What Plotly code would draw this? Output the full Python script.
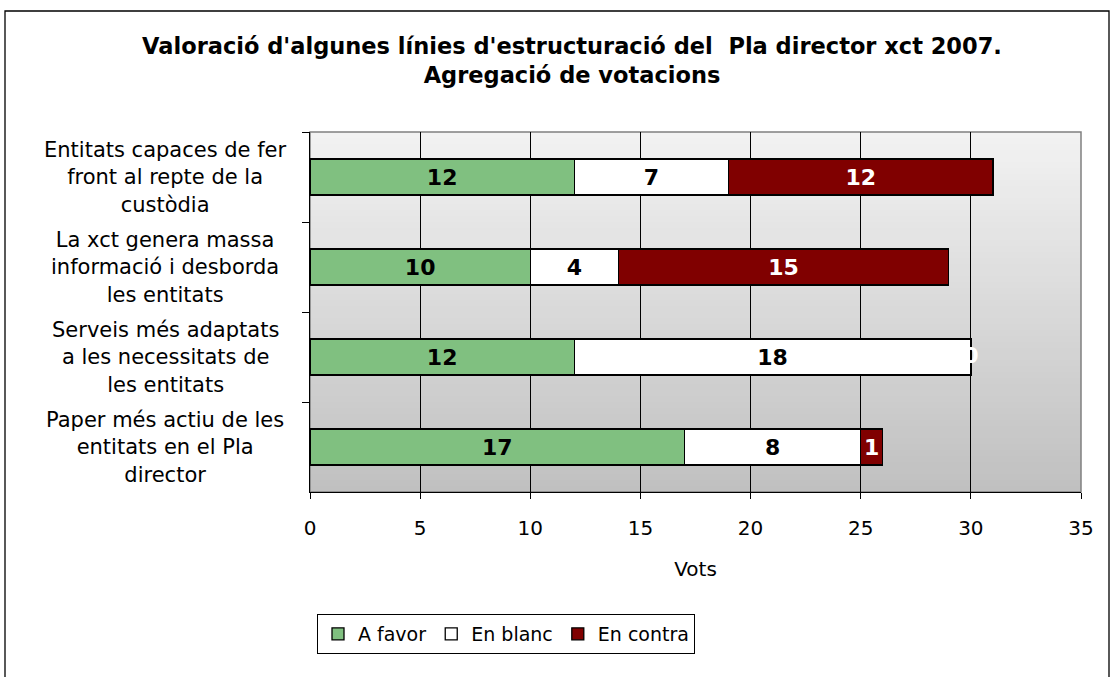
import plotly.graph_objects as go

# Dades de la votació
categories = [
    "Entitats capaces de fer<br>front al repte de la<br>custòdia",
    "La xct genera massa<br>informació i desborda<br>les entitats",
    "Serveis més adaptats<br>a les necessitats de<br>les entitats",
    "Paper més actiu de les<br>entitats en el Pla<br>director",
]
a_favor = [12, 10, 12, 17]
en_blanc = [7, 4, 18, 8]
en_contra = [12, 15, 0, 1]

FONT = "DejaVu Sans"
W, H = 1110, 677
L, R, T, B = 310, 29, 132, 185
pw, ph = W - L - R, H - T - B

fig = go.Figure()

series = [
    ("A favor", a_favor, "#80C080", "black"),
    ("En blanc", en_blanc, "#FFFFFF", "black"),
    ("En contra", en_contra, "#800000", "white"),
]
for name, vals, col, tcol in series:
    fig.add_trace(go.Bar(
        y=categories, x=vals, name=name, orientation="h",
        marker=dict(color=col, line=dict(color="black", width=1.3)),
        text=[str(v) if v else "" for v in vals],
        textposition="inside", insidetextanchor="middle",
        textangle=0, constraintext="none",
        textfont=dict(family=FONT, size=22, color=tcol, weight="bold"),
        hoverinfo="skip",
    ))

# etiqueta dels valors zero (queda al final de la barra)
zero_cats = [c for c, v in zip(categories, en_contra) if v == 0]
zero_x = [f + b + c for f, b, c in zip(a_favor, en_blanc, en_contra) if c == 0]
fig.add_trace(go.Scatter(
    y=zero_cats, x=zero_x, mode="text", text=["0"] * len(zero_x),
    textfont=dict(family=FONT, size=22, color="white", weight="bold"),
    showlegend=False, hoverinfo="skip", cliponaxis=False,
))

# etiquetes de categoria centrades
for c in categories:
    fig.add_annotation(
        x=(165 - L) / pw, xref="paper", y=c, yref="y",
        text=c, showarrow=False, align="center", xanchor="center",
        font=dict(family=FONT, size=21, color="black"),
    )

# fons amb degradat a l'àrea del gràfic
n = 60
for i in range(n):
    t = i / (n - 1)
    v = int(round(0xF2 + (0xC0 - 0xF2) * t))
    fig.add_shape(type="rect", xref="paper", yref="paper",
                  x0=0, x1=1, y0=1 - (i + 1) / n, y1=1 - i / n,
                  fillcolor=f"rgb({v},{v},{v})", line=dict(width=0),
                  layer="below")

# vora gris de l'àrea del gràfic
fig.add_shape(type="rect", xref="paper", yref="paper", x0=0, x1=1, y0=0, y1=1,
              line=dict(color="#808080", width=1.5), layer="below")

# vora exterior
fig.add_shape(type="rect", xref="paper", yref="paper",
              x0=(5 - L) / pw, x1=(1109 - L) / pw,
              y0=(H - B - 690) / ph, y1=(H - B - 11) / ph,
              line=dict(color="black", width=1.3), fillcolor="rgba(0,0,0,0)")

fig.update_layout(
    width=W, height=H,
    margin=dict(l=L, r=R, t=T, b=B),
    barmode="stack", bargap=0.6,
    paper_bgcolor="white", plot_bgcolor="rgba(0,0,0,0)",
    font=dict(family=FONT, size=18, color="black"),
    title=dict(
        text="Valoració d'algunes línies d'estructuració del  Pla director xct 2007.<br>Agregació de votacions",
        x=572 / W, xanchor="center", y=1 - 54 / H, yanchor="middle",
        font=dict(family=FONT, size=22.5, weight="bold"),
    ),
    xaxis=dict(
        range=[0, 35], dtick=5, tick0=0,
        showgrid=True, gridcolor="black", gridwidth=1,
        showline=True, linecolor="black", linewidth=1.3,
        ticks="outside", ticklen=6, tickcolor="black",
        tickfont=dict(size=20), zeroline=False, ticklabelstandoff=12,
        title=dict(text="Vots", font=dict(size=20), standoff=22),
    ),
    yaxis=dict(
        autorange="reversed", showticklabels=False,
        showline=True, linecolor="black", linewidth=1.3,
        ticks="outside", ticklen=7, tickcolor="black", tickson="boundaries",
        showgrid=False,
    ),
    legend=dict(
        orientation="h", x=(317 - L) / pw, xanchor="left",
        y=(H - B - 614) / ph, yanchor="top",
        bordercolor="black", borderwidth=1, bgcolor="white",
        font=dict(size=19), traceorder="normal", itemwidth=30,
    ),
    showlegend=True,
)

fig.write_html("out.html", config={"displayModeBar": False},
               post_script="document.body.style.margin='0';")
